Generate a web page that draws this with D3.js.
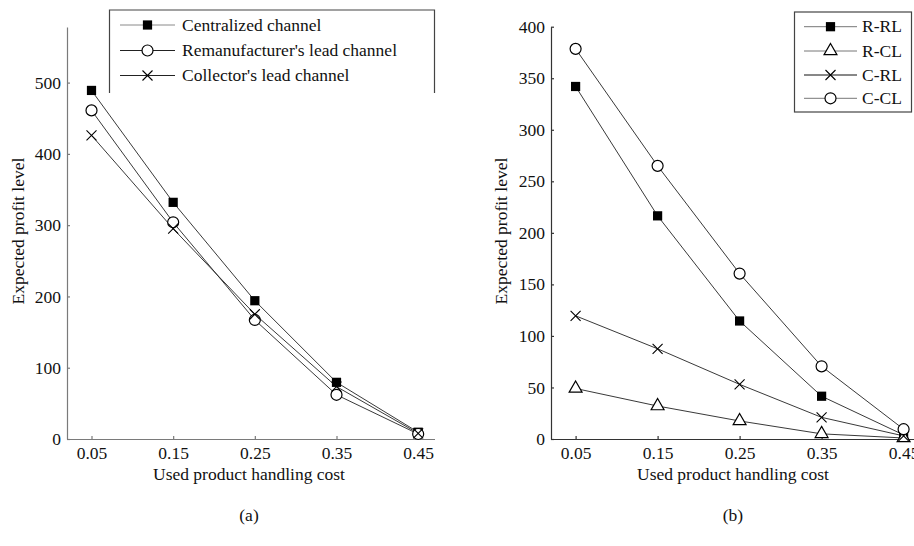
<!DOCTYPE html>
<html>
<head>
<meta charset="utf-8">
<script src="https://cdnjs.cloudflare.com/ajax/libs/d3/7.8.5/d3.min.js"></script>
<style>
  body { margin: 0; background: #fff; }
  svg { display: block; font-family: "Liberation Serif", "Times New Roman", serif; }
</style>
</head>
<body>
<svg id="fig" width="914" height="546"></svg>
<script>
// handling cost (x values, shared by both panels)
const costs = [0.05, 0.15, 0.25, 0.35, 0.45];
const costTicks = ["0.05", "0.15", "0.25", "0.35", "0.45"];

// panel (a)
const centralized = [489, 332, 194, 79.5, 9.5];
const remanLead = [461, 304, 167, 62, 7];
const collectorLead = [426, 295, 175, 73.5, 8];
const ticksA = [0, 100, 200, 300, 400, 500];

// panel (b)
const rRL = [342, 216.5, 114.5, 41.5, 4];
const rCL = [49, 32, 17.5, 5, 1];
const cRL = [119.5, 87.5, 53, 21, 3];
const cCL = [378.5, 265, 160.5, 70.5, 9.5];
const ticksB = [0, 50, 100, 150, 200, 250, 300, 350, 400];

const svg = d3.select("#fig");

// marker shapes
const cross = {
  draw(ctx, size) {
    const r = Math.sqrt(size) / 2;
    ctx.moveTo(-r, -r); ctx.lineTo(r, r);
    ctx.moveTo(r, -r); ctx.lineTo(-r, r);
  }
};
function addMarker(g, kind, x, y) {
  if (kind === "square") {
    g.append("path").attr("d", d3.symbol(d3.symbolSquare, 85)())
      .attr("transform", `translate(${x},${y})`).attr("fill", "#000");
  } else if (kind === "circle") {
    g.append("path").attr("d", d3.symbol(d3.symbolCircle, 95)())
      .attr("transform", `translate(${x},${y})`)
      .attr("fill", "#fff").attr("stroke", "#000").attr("stroke-width", 1.2);
  } else if (kind === "triangle") {
    g.append("path").attr("d", d3.symbol(d3.symbolTriangle, 72)())
      .attr("transform", `translate(${x},${y})`)
      .attr("fill", "#fff").attr("stroke", "#000").attr("stroke-width", 1.2);
  } else {
    g.append("path").attr("d", d3.symbol(cross, 100)())
      .attr("transform", `translate(${x},${y})`)
      .attr("fill", "none").attr("stroke", "#000").attr("stroke-width", 1.1);
  }
}

function panel(cfg) {
  const g = svg.append("g");
  const x = d3.scaleLinear().domain([0.02, 0.47]).range(cfg.xrange);
  const y = d3.scaleLinear().domain([0, cfg.ymax]).range([439, cfg.ytop]);

  const xaxis = d3.axisBottom(x).tickValues(costs)
    .tickFormat((d, i) => costTicks[i]).tickSize(-3).tickSizeOuter(0).tickPadding(8);
  const yaxis = d3.axisLeft(y).tickValues(cfg.ticks)
    .tickSize(-3).tickSizeOuter(0).tickPadding(6);

  const xg = g.append("g").attr("transform", "translate(0,439)").call(xaxis);
  const yg = g.append("g").attr("transform", `translate(${cfg.xrange[0]},0)`).call(yaxis);
  [xg, yg].forEach(a => {
    a.selectAll("path, line").attr("stroke", cfg.axisColor).attr("stroke-width", 1.2);
    a.selectAll("text").attr("fill", "#111").style("font-size", "17.5px")
      .style("font-family", "Liberation Serif, Times New Roman, serif");
  });

  // series
  const line = d3.line().x((d, i) => x(costs[i])).y(d => y(d));
  cfg.series.forEach(s => {
    g.append("path").datum(s.values).attr("d", line)
      .attr("fill", "none").attr("stroke", "#222").attr("stroke-width", 0.9);
  });
  cfg.series.forEach(s => {
    s.values.forEach((v, i) => addMarker(g, s.marker, x(costs[i]), y(v)));
  });

  // axis titles
  g.append("text").attr("x", cfg.xlabelX).attr("y", 480)
    .attr("text-anchor", "middle").style("font-size", "17.5px").attr("fill", "#111")
    .text("Used product handling cost");
  g.append("text").attr("transform", `translate(${cfg.ylabelX},231) rotate(-90)`)
    .attr("text-anchor", "middle").style("font-size", "17.5px").attr("fill", "#111")
    .text("Expected profit level");
  g.append("text").attr("x", cfg.xlabelX).attr("y", 521)
    .attr("text-anchor", "middle").style("font-size", "17.5px").attr("fill", "#111")
    .text(cfg.tag);

  // legend
  const L = cfg.legend;
  const lg = g.append("g");
  if (L.open) {
    lg.append("path")
      .attr("d", `M${L.x0},${L.y1}V${L.y0}H${L.x1}V${L.y1}`)
      .attr("fill", "none").attr("stroke", "#444").attr("stroke-width", 1.2);
  } else {
    lg.append("rect").attr("x", L.x0).attr("y", L.y0)
      .attr("width", L.x1 - L.x0).attr("height", L.y1 - L.y0)
      .attr("fill", "#fff").attr("stroke", "#444").attr("stroke-width", 1.2);
  }
  cfg.series.forEach((s, i) => {
    const ry = L.rows[i];
    lg.append("line").attr("x1", L.lx0).attr("x2", L.lx1).attr("y1", ry).attr("y2", ry)
      .attr("stroke", s.legendColor).attr("stroke-width", 1);
    addMarker(lg, s.marker, (L.lx0 + L.lx1) / 2, ry);
    lg.append("text").attr("x", L.tx).attr("y", ry).attr("dy", "0.33em")
      .style("font-size", "17.5px").attr("fill", "#111").text(s.name);
  });
}

panel({
  xrange: [67, 434.5], ymax: 578, ytop: 27, ticks: ticksA, axisColor: "#7a7a7a",
  xlabelX: 249, ylabelX: 24, tag: "(a)",
  series: [
    { name: "Centralized channel", values: centralized, marker: "square", legendColor: "#8a8a8a" },
    { name: "Remanufacturer's lead channel", values: remanLead, marker: "circle", legendColor: "#222" },
    { name: "Collector's lead channel", values: collectorLead, marker: "cross", legendColor: "#222" }
  ],
  legend: { open: true, x0: 109.5, x1: 434.5, y0: 10, y1: 93,
            rows: [25, 50.5, 75.5], lx0: 120, lx1: 175, tx: 182 }
});

panel({
  xrange: [551, 920], ymax: 400, ytop: 26.7, ticks: ticksB, axisColor: "#333",
  xlabelX: 733, ylabelX: 507, tag: "(b)",
  series: [
    { name: "R-RL", values: rRL, marker: "square", legendColor: "#777" },
    { name: "R-CL", values: rCL, marker: "triangle", legendColor: "#777" },
    { name: "C-RL", values: cRL, marker: "cross", legendColor: "#111" },
    { name: "C-CL", values: cCL, marker: "circle", legendColor: "#777" }
  ],
  legend: { open: false, x0: 794.5, x1: 911.5, y0: 12, y1: 112,
            rows: [26.7, 51, 75, 98.3], lx0: 804, lx1: 857, tx: 862 }
});
</script>
</body>
</html>
